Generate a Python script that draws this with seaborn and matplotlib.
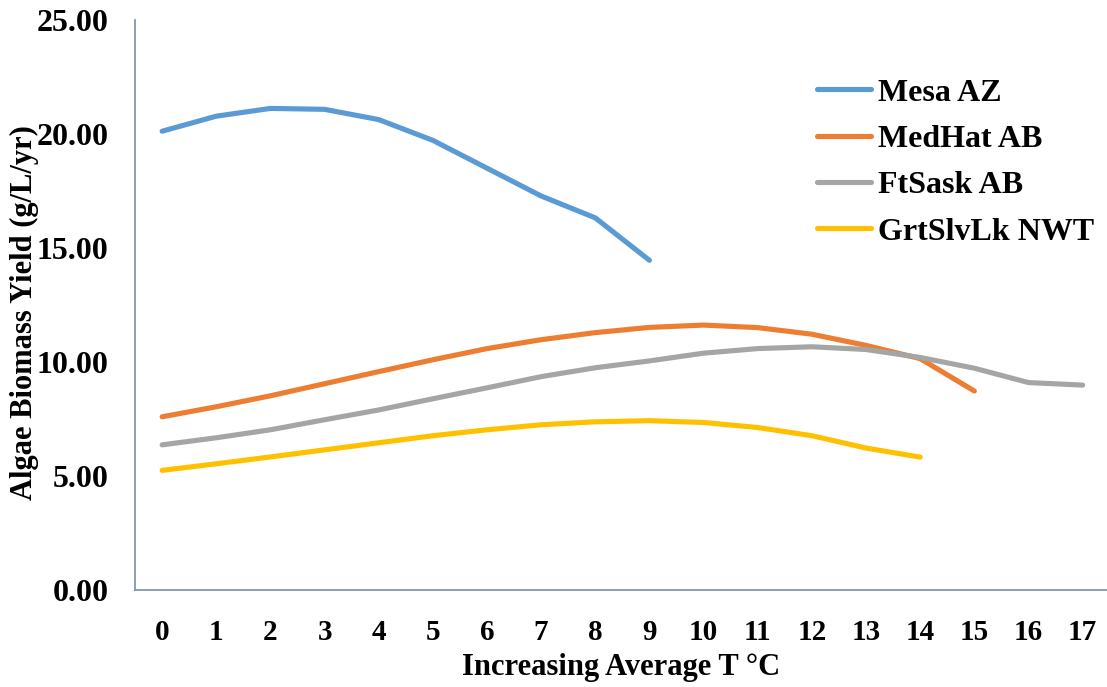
import numpy as np
import pandas as pd
import matplotlib
matplotlib.use("Agg")
import matplotlib.pyplot as plt
import seaborn as sns

# Average temperature steps (°C) and annual biomass yields per site (g/L/yr)
temps = list(range(18))
mesa_az = [20.12, 20.78, 21.12, 21.08, 20.63, 19.72, 18.50, 17.28, 16.32, 14.46]
medhat_ab = [7.60, 8.04, 8.52, 9.05, 9.58, 10.10, 10.59, 10.98, 11.29, 11.52,
             11.62, 11.51, 11.22, 10.73, 10.15, 8.73]
ftsask_ab = [6.37, 6.68, 7.03, 7.47, 7.90, 8.39, 8.87, 9.36, 9.75, 10.05,
             10.39, 10.59, 10.67, 10.55, 10.20, 9.73, 9.10, 8.99]
grtslvlk_nwt = [5.25, 5.54, 5.84, 6.15, 6.46, 6.77, 7.03, 7.25, 7.38, 7.43,
                7.35, 7.13, 6.77, 6.23, 5.83]

sites = ["Mesa AZ", "MedHat AB", "FtSask AB", "GrtSlvLk NWT"]
series = [mesa_az, medhat_ab, ftsask_ab, grtslvlk_nwt]
colors = ["#5B9BD5", "#ED7D31", "#A5A5A5", "#FFC000"]
y_ticks = [0, 5, 10, 15, 20, 25]

rows = []
for name, vals in zip(sites, series):
    for t, v in zip(temps, vals):
        rows.append({"temp": t, "yield": v, "site": name})
df = pd.DataFrame(rows)

sns.set_theme(style="white")
plt.rcParams["font.family"] = ["Liberation Serif", "DejaVu Serif"]
plt.rcParams["font.weight"] = "bold"
plt.rcParams["text.color"] = "black"
plt.rcParams["axes.labelcolor"] = "black"

fig = plt.figure(figsize=(11.07, 6.87), dpi=100)
ax = fig.add_axes([0.122, 0.141, 0.878, 0.830])

sns.lineplot(data=df, x="temp", y="yield", hue="site", hue_order=sites,
             palette=colors, linewidth=3.7, ax=ax, legend=True,
             solid_capstyle="round", solid_joinstyle="round")

ax.set_xlim(-0.5, 17.45)
ax.set_ylim(0, 25)
ax.set_xticks(temps)
ax.set_xticklabels([str(t) for t in temps], fontsize=21, fontweight="bold")
ax.set_yticks(y_ticks)
ax.set_yticklabels([f"{v:.2f}" for v in y_ticks], fontsize=23, fontweight="bold")
ax.tick_params(axis="both", length=0, colors="black")
ax.tick_params(axis="x", pad=21)
ax.tick_params(axis="y", pad=19)

ax.set_xlabel("Increasing Average T °C", fontsize=22, fontweight="bold", labelpad=5)
ax.set_ylabel("Algae Biomass Yield (g/L/yr)", fontsize=22, fontweight="bold")
ax.yaxis.set_label_coords(-0.099, 0.486)

for side in ["top", "right"]:
    ax.spines[side].set_visible(False)
for side in ["left", "bottom"]:
    ax.spines[side].set_color("#8497B0")
    ax.spines[side].set_linewidth(1.3)
ax.grid(False)

handles, labels = ax.get_legend_handles_labels()
for h in handles:
    h.set_solid_capstyle("round")
ax.legend(handles, labels, loc="upper left", bbox_to_anchor=(0.738, 0.886),
          bbox_transform=fig.transFigure, frameon=False,
          prop={"family": "Liberation Serif", "weight": "bold", "size": 23},
          handlelength=1.7, handletextpad=0.2, labelspacing=0.53,
          borderpad=0, borderaxespad=0)

fig.savefig("out.png", dpi=100)
